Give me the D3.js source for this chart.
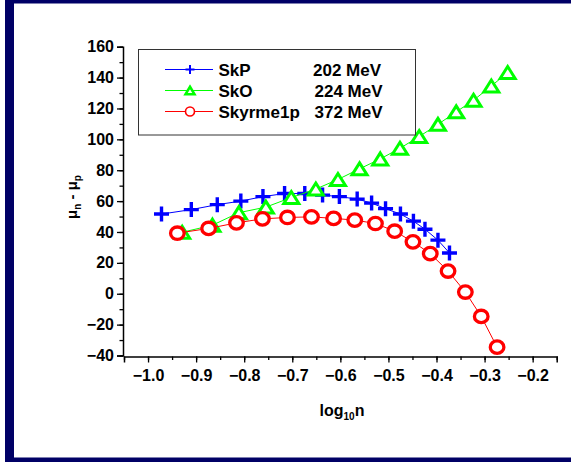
<!DOCTYPE html>
<html><head><meta charset="utf-8">
<script src="https://cdn.jsdelivr.net/npm/d3@7"></script>
<style>body{margin:0;background:#fff;}svg{display:block;font-family:"Liberation Sans",Arial,sans-serif;font-weight:bold;}</style>
</head><body>
<script>
const seriesNames = ["SkP", "SkO", "Skyrme1p"];
const seriesEnergies = ["202 MeV", "224 MeV", "372 MeV"];
const skpX = [-0.972,-0.910,-0.856,-0.807,-0.761,-0.716,-0.674,-0.637,-0.602,-0.565,-0.535,-0.506,-0.475,-0.448,-0.424,-0.397,-0.373];
const skpY = [51.6,54.5,57.7,60.0,62.9,64.9,64.9,63.9,62.9,61.3,58.7,55.1,51.6,47.0,41.8,34.7,26.4];
const skoX = [-0.929,-0.866,-0.811,-0.755,-0.702,-0.651,-0.605,-0.560,-0.517,-0.476,-0.436,-0.397,-0.359,-0.323,-0.286,-0.252];
const skoY = [39.8,44.4,52.5,56.1,62.3,67.8,74.0,80.9,87.3,94.2,101.8,109.7,117.8,125.3,134.5,143.3];
const sky1pX = [-0.939,-0.874,-0.816,-0.762,-0.710,-0.660,-0.614,-0.570,-0.527,-0.487,-0.449,-0.413,-0.376,-0.340,-0.307,-0.274];
const sky1pY = [39.2,42.3,45.9,48.5,49.4,49.8,48.8,47.7,45.5,40.5,33.6,26.0,14.7,1.1,-14.7,-34.6];
const xTicks = [-1.0,-0.9,-0.8,-0.7,-0.6,-0.5,-0.4,-0.3,-0.2];
const yTicks = [-40,-20,0,20,40,60,80,100,120,140,160];

const W = 571, H = 462;
const svg = d3.select("body").append("svg").attr("width", W).attr("height", H);
const navy = "#000066";
// frame
svg.append("rect").attr("x",5).attr("y",0).attr("width",W-5).attr("height",3.5).attr("fill",navy);
svg.append("rect").attr("x",5).attr("y",0).attr("width",9).attr("height",H).attr("fill",navy);
svg.append("rect").attr("x",5).attr("y",457.5).attr("width",W-5).attr("height",5).attr("fill",navy);

const x = d3.scaleLinear().domain([-1.05,-0.15]).range([124,556.7]);
const y = d3.scaleLinear().domain([-40,160]).range([355.5,46.7]);

// x axis
const xAxisG = svg.append("g").attr("transform",`translate(0,${y(-40)+1})`);
xAxisG.call(d3.axisBottom(x).tickValues(d3.range(-1.05,-0.149,0.05)).tickSize(3.5).tickFormat(""))
  .call(g=>g.select(".domain").remove());
xAxisG.append("g").call(d3.axisBottom(x).tickValues(xTicks).tickSize(6).tickPadding(7).tickFormat(d3.format(".1f")))
  .call(g=>g.select(".domain").attr("stroke-width",1.5))
  .call(g=>g.selectAll("text").attr("font-size","16px").attr("font-weight","bold").attr("fill","#000").attr("font-family","Liberation Sans, Arial, sans-serif"));
xAxisG.selectAll("line").attr("stroke-width",1.3);

// y axis
const yAxisG = svg.append("g").attr("transform",`translate(${x(-1.05)-1},0)`);
yAxisG.call(d3.axisLeft(y).tickValues(d3.range(-40,161,10)).tickSize(3.5).tickFormat(""))
  .call(g=>g.select(".domain").remove());
yAxisG.append("g").call(d3.axisLeft(y).tickValues(yTicks).tickSize(6).tickPadding(3).tickFormat(d3.format("d")))
  .call(g=>g.select(".domain").attr("stroke-width",1.5))
  .call(g=>g.selectAll("text").attr("font-size","16px").attr("font-weight","bold").attr("fill","#000").attr("font-family","Liberation Sans, Arial, sans-serif"));
yAxisG.selectAll("line").attr("stroke-width",1.3);

// axis titles
const xt = svg.append("text").attr("x",342).attr("y",416).attr("text-anchor","middle").attr("font-size","16px");
xt.append("tspan").text("log");
xt.append("tspan").text("10").attr("font-size","10px").attr("dy",4);
xt.append("tspan").text("n").attr("dy",-4);

const yt = svg.append("text").attr("transform","translate(77,197) rotate(-90)").attr("text-anchor","middle").attr("font-size","15px");
yt.append("tspan").text("μ");
yt.append("tspan").text("n").attr("font-size","10px").attr("dy",4);
yt.append("tspan").text(" - ").attr("dy",-4);
yt.append("tspan").text("μ");
yt.append("tspan").text("p").attr("font-size","10px").attr("dy",4);

// series
const line = d3.line().x(d=>x(d[0])).y(d=>y(d[1]));
const crossPath = s => `M${-s},0H${s}M0,${-s}V${s}`;
const triPath = (w,h) => `M0,${-h/2}L${w/2},${h/2}L${-w/2},${h/2}Z`;

function drawSeries(xs, ys, color, marker){
  const pts = xs.map((v,i)=>[v, ys[i]]);
  const g = svg.append("g");
  g.append("path").attr("d", line(pts)).attr("fill","none").attr("stroke",color).attr("stroke-width",1);
  const m = g.selectAll(".m").data(pts).enter();
  if (marker==="cross") {
    m.append("path").attr("d",crossPath(7.5)).attr("transform",d=>`translate(${x(d[0])},${y(d[1])})`)
      .attr("stroke",color).attr("stroke-width",3.4).attr("fill","none");
  } else if (marker==="tri") {
    m.append("path").attr("d",triPath(15,12)).attr("transform",d=>`translate(${x(d[0])},${y(d[1])})`)
      .attr("stroke",color).attr("stroke-width",3).attr("fill","#fff").attr("stroke-linejoin","miter");
  } else {
    m.append("ellipse").attr("cx",d=>x(d[0])).attr("cy",d=>y(d[1])).attr("rx",6.8).attr("ry",6.2)
      .attr("stroke",color).attr("stroke-width",3.3).attr("fill","#fff");
  }
}
drawSeries(skpX, skpY, "#0000ff", "cross");
drawSeries(skoX, skoY, "#00ff00", "tri");
drawSeries(sky1pX, sky1pY, "#ff0000", "circle");

// legend
const lg = svg.append("g");
lg.append("rect").attr("x",138.5).attr("y",49.5).attr("width",277).attr("height",85.5).attr("fill","#fff").attr("stroke","#333").attr("stroke-width",1);
const colors = ["#0000ff","#00ff00","#ff0000"];
const markers = ["cross","tri","circle"];
const energyX = [313, 314.5, 314.5];
seriesNames.forEach((name,i)=>{
  const cy = 69.5 + i*21;
  lg.append("line").attr("x1",165).attr("x2",213).attr("y1",cy).attr("y2",cy).attr("stroke",colors[i]).attr("stroke-width",1);
  if (markers[i]==="cross") lg.append("path").attr("d",crossPath(4.5)).attr("transform",`translate(190,${cy})`).attr("stroke",colors[i]).attr("stroke-width",2).attr("fill","none");
  else if (markers[i]==="tri") lg.append("path").attr("d",triPath(9,7.5)).attr("transform",`translate(190,${cy})`).attr("stroke",colors[i]).attr("stroke-width",2.5).attr("fill","#fff");
  else lg.append("circle").attr("cx",190).attr("cy",cy).attr("r",4.5).attr("stroke",colors[i]).attr("stroke-width",1.6).attr("fill","#fff");
  lg.append("text").attr("x",218.5).attr("y",cy+6.5).attr("font-size","17px").text(name);
  lg.append("text").attr("x",energyX[i]).attr("y",cy+6.5).attr("font-size","17px").text(seriesEnergies[i]);
});
</script>
</body></html>
